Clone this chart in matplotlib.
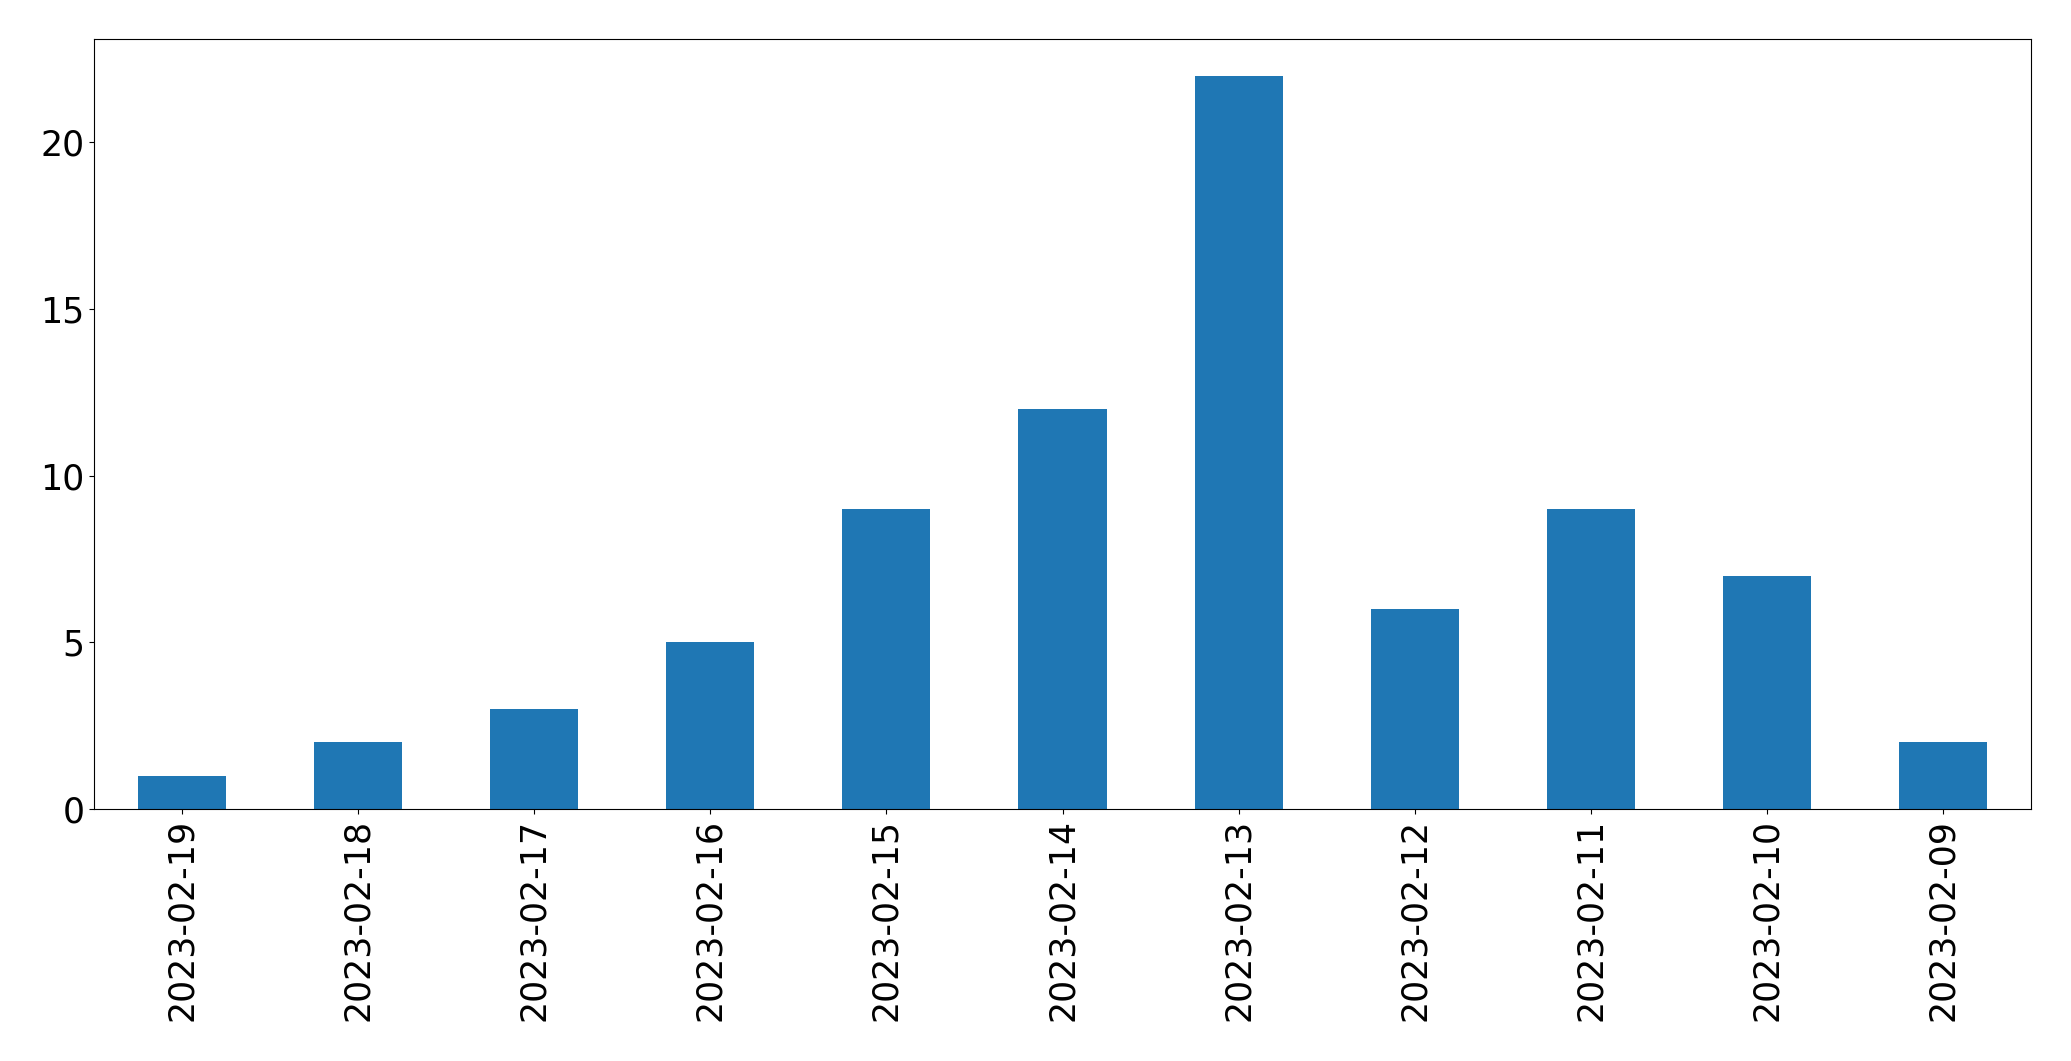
import matplotlib
matplotlib.use("Agg")
import matplotlib.pyplot as plt
import pandas as pd

dates = ["2023-02-19", "2023-02-18", "2023-02-17", "2023-02-16", "2023-02-15",
         "2023-02-14", "2023-02-13", "2023-02-12", "2023-02-11", "2023-02-10",
         "2023-02-09"]
counts = [1, 2, 3, 5, 9, 12, 22, 6, 9, 7, 2]

s = pd.Series(counts, index=dates)

fig = plt.figure(figsize=(20.71, 10.61), dpi=100)
ax = fig.add_axes([94 / 2071, 252 / 1061, 1937 / 2071, 770 / 1061])
s.plot(kind="bar", ax=ax, color="#1f77b4")
ax.tick_params(axis="both", labelsize=25)

fig.savefig("out.png", dpi=100)
